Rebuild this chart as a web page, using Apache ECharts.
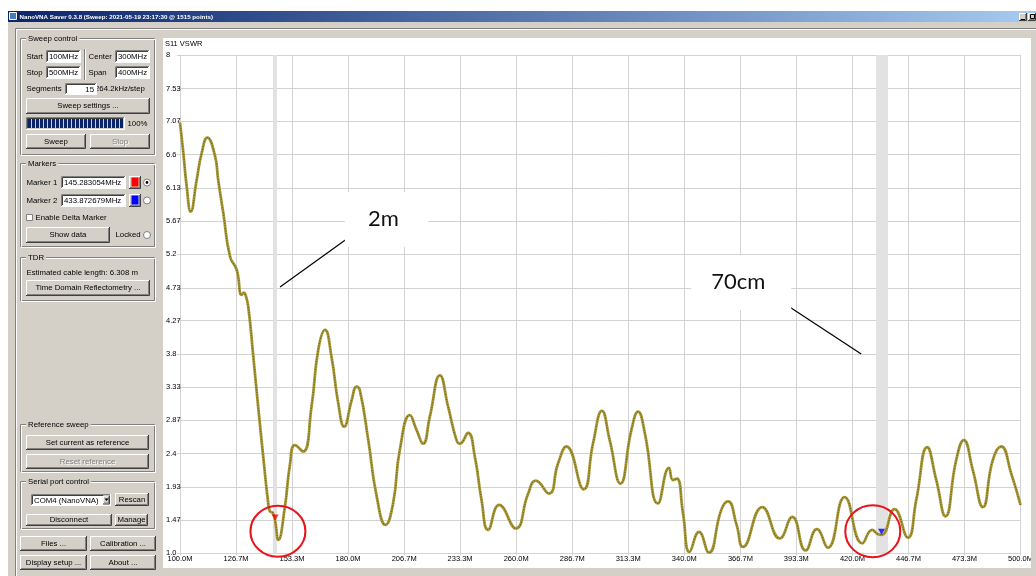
<!DOCTYPE html>
<html><head><meta charset="utf-8">
<script src="https://cdn.jsdelivr.net/npm/echarts@6/dist/echarts.min.js"></script>
<style>html,body{margin:0;padding:0;background:#fff;overflow:hidden}#c{width:1036px;height:576px}</style>
</head><body><div id="c"></div>
<script>
// ---------------- data ----------------
const freqMHz = [100.0,101.6,103.2,105.1,107.9,110.3,113.0,116.6,118.2,120.6,123.8,127.0,129.3,130.4,131.2,132.5,134.9,137.2,139.6,142.0,142.8,144.1,145.2,146.8,149.9,152.3,154.7,158.6,162.6,165.8,169.0,172.1,175.3,178.1,181.7,184.0,185.6,189.6,193.6,197.8,201.4,204.6,209.4,212.6,215.7,218.9,223.7,227.6,231.6,233.2,237.1,240.3,243.5,246.6,251.9,259.8,265.7,269.3,275.6,279.9,283.9,292.1,296.6,300.8,304.5,309.6,314.8,318.0,321.2,327.5,332.7,334.6,336.5,339.4,342.5,347.0,351.7,357.6,360.8,364.9,367.9,377.1,385.4,391.4,397.7,403.1,408.3,416.3,424.7,429.4,432.1,434.0,440.0,446.4,450.4,455.6,459.9,464.3,469.4,473.0,477.3,482.1,486.8,490.8,495.6,500.0];
const vswr = [7.05,6.62,6.15,5.80,6.24,6.62,6.84,6.59,6.24,5.78,5.17,4.98,4.63,4.66,4.63,4.46,3.76,3.06,2.36,1.70,1.59,1.57,1.47,1.19,1.65,2.24,2.52,2.43,3.06,3.86,4.14,3.76,3.11,2.78,3.15,3.34,3.29,2.59,1.80,1.40,1.70,2.45,2.94,2.73,2.54,2.92,3.50,3.06,2.59,2.54,2.69,2.36,1.75,1.33,1.68,1.35,1.84,2.02,1.84,2.26,2.50,1.90,2.55,3.00,2.59,1.98,2.73,2.99,2.69,1.70,2.20,2.03,2.05,1.56,1.02,1.30,1.01,1.61,1.73,1.40,1.09,1.65,1.21,1.51,1.04,1.34,1.08,1.79,1.14,1.33,1.27,1.26,1.62,1.22,1.75,2.49,2.03,1.52,2.31,2.59,2.17,1.65,2.31,2.50,2.12,1.68];
const xTickLabels = ['100.0M','126.7M','153.3M','180.0M','206.7M','233.3M','260.0M','286.7M','313.3M','340.0M','366.7M','393.3M','420.0M','446.7M','473.3M','500.0M'];
const yTickLabels = ['1.0','1.47','1.93','2.4','2.87','3.33','3.8','4.27','4.73','5.2','5.67','6.13','6.6','7.07','7.53','8'];
const markerFreq = [145.283054, 433.872679];
const markerVswr = [1.46, 1.26];
const markerColors = ['#ff0000', '#0000ff'];
const bandWidths = [4, 12];
const noteText = ['2m', '70cm'];
const noteCenter = [[198.2, 5.69], [367.1, 4.80]];
const noteSize = [[83, 55], [100, 55]];
const noteLeader = [[[184.8, 5.53], [147.6, 4.74]], [[379.8, 4.66], [424.2, 3.80]]];
const circleCenter = [[146.6, 1.31], [429.7, 1.31]];
const circleSize = [[55, 51], [55, 52]];

const xTickValues = xTickLabels.map(s => parseFloat(s));
const yTickValues = yTickLabels.map(s => parseFloat(s));
const curve = freqMHz.map((f, i) => [f, vswr[i]]);

// ---------------- window chrome ----------------
const BG = '#d4d0c8';
const FONT = '7.8px "Liberation Sans", Arial, sans-serif';
const chrome = [];
let z2c = 0;
function add(el){ if (el.z === undefined) el.z = -1; el.z2 = z2c++; el.silent = true; chrome.push(el); }
function R(x,y,w,h,fill,stroke,z){ add({type:'rect', z:z, shape:{x:x,y:y,width:w,height:h}, style:{fill:fill||'none', stroke:stroke||null, lineWidth:1}}); }
function PL(points, stroke){ add({type:'polyline', shape:{points:points}, style:{stroke:stroke, fill:'none', lineWidth:1}}); }
function T(x,y,s,o){ o=o||{}; const st={text:s, x:x, y:y, font:o.font||FONT, fill:o.fill||'#000', textAlign:o.align||'left', textVerticalAlign:'middle', align:o.align||'left', verticalAlign:'middle'}; if(o.bg){st.backgroundColor=o.bg; st.padding=o.pad;} add({type:'text', style:st}); }
function raised(x,y,w,h){
  R(x,y,w,h,BG);
  PL([[x+0.5,y+h-1],[x+0.5,y+0.5],[x+w-1,y+0.5]],'#ffffff');
  PL([[x,y+h-0.5],[x+w-0.5,y+h-0.5],[x+w-0.5,y]],'#404040');
  PL([[x+1,y+h-1.5],[x+w-1.5,y+h-1.5],[x+w-1.5,y+1]],'#808080');
}
function button(x,y,w,h,label,dis){
  raised(x,y,w,h);
  const cx=x+w/2, cy=y+h/2;
  if(dis){ T(cx+1,cy+1,label,{fill:'#ffffff',align:'center'}); T(cx,cy,label,{fill:'#808080',align:'center'}); }
  else T(cx,cy,label,{align:'center'});
}
function sunken(x,y,w,h,fill){
  R(x,y,w,h,fill);
  PL([[x+0.5,y+h-1],[x+0.5,y+0.5],[x+w-1,y+0.5]],'#808080');
  PL([[x+1.5,y+h-2],[x+1.5,y+1.5],[x+w-2,y+1.5]],'#404040');
  PL([[x,y+h-0.5],[x+w-0.5,y+h-0.5],[x+w-0.5,y]],'#ffffff');
}
function input(x,y,w,h,txt,right){ sunken(x,y,w,h,'#ffffff'); T(right?x+w-3:x+3, y+h/2+0.5, txt, {align:right?'right':'left'}); }
function group(x,y,w,h,label){
  R(x+0.5,y+0.5,w-1,h-1,'none','#808080');
  R(x+1.5,y+1.5,w-1,h-1,'none','#ffffff');
  T(x+6,y+0.5,label,{bg:BG,pad:[0,2]});
}
function radio(cx,cy,checked){
  add({type:'circle', shape:{cx:cx,cy:cy,r:3.5}, style:{fill:'#ffffff', stroke:'#808080', lineWidth:1}});
  if(checked) add({type:'circle', shape:{cx:cx,cy:cy,r:1.4}, style:{fill:'#000000'}});
}
function colorBtn(x,y,w,h,c){ raised(x,y,w,h); R(x+2.5,y+1.5,w-5,h-4,c); }

// screen + window
R(8,11,1028,565,BG);
add({type:'rect', shape:{x:8,y:11,width:1028,height:11}, style:{fill:{type:'linear',x:0,y:0,x2:1,y2:0,colorStops:[{offset:0,color:'#0a246a'},{offset:1,color:'#a6caf0'}]}}});
R(9.5,12.5,7,7,'#4a7ab8','#ffffff');
T(19.5,16.8,'NanoVNA Saver 0.3.8 (Sweep: 2021-05-19 23:17:30 @ 1515 points)',{font:'bold 6.2px "Liberation Sans", Arial, sans-serif', fill:'#ffffff'});
raised(1019,13,8,8); raised(1028,13,8,8);
PL([[1021,19.5],[1025,19.5]],'#000000');
R(1030.5,14.5,4,4,'none','#000000');
// frame
PL([[15.5,576],[15.5,28.5],[1036,28.5]],'#808080');
PL([[16.5,576],[16.5,29.5],[1036,29.5]],'#ffffff');
// chart panel
R(163,38,868,530,'#ffffff');

// Sweep control
group(20,38,135,117,'Sweep control');
T(26.5,57,'Start'); input(46,50,35,13,'100MHz');
PL([[84.5,49],[84.5,80]],'#808080'); PL([[85.5,49],[85.5,80]],'#ffffff');
T(88.5,57,'Center'); input(115,50,35,13,'300MHz');
T(26.5,73,'Stop'); input(46,66,35,13,'500MHz');
T(88.5,73,'Span'); input(115,66,35,13,'400MHz');
T(26.5,89,'Segments');
T(95,89,'264.2kHz/step');
input(65,83,32,12,'15',true);
button(26,98,124,16,'Sweep settings ...');
sunken(26,117,99,13,BG);
for(let i=0;i<24;i++) R(28+i*4,119,3,9,'#0a246a');
T(127.5,124,'100%');
button(26,134,60,15,'Sweep'); button(90,134,60,15,'Stop',true);

// Markers
group(20,163,135,84,'Markers');
T(26.5,182.5,'Marker 1'); input(61,176,65,13,'145.283054MHz'); colorBtn(129,176,12,13,markerColors[0]); radio(147,182.5,true);
T(26.5,200.5,'Marker 2'); input(61,194,65,13,'433.872679MHz'); colorBtn(129,194,12,13,markerColors[1]); radio(147,200.5,false);
R(26.5,214.5,6,6,'#ffffff','#808080'); T(35.5,217.5,'Enable Delta Marker');
button(26,227,84,16,'Show data'); T(115.5,235,'Locked'); radio(147,235,false);

// TDR
group(20,257,135,44,'TDR');
T(26.5,272.5,'Estimated cable length: 6.308 m');
button(26,280,124,16,'Time Domain Reflectometry ...');

// Reference sweep
group(20,424,135,48,'Reference sweep');
button(26,435,123,15,'Set current as reference');
button(26,454,123,15,'Reset reference',true);

// Serial port control
group(20,481,135,48,'Serial port control');
input(31,494,80,12,'COM4 (NanoVNA)');
raised(103,495.5,7,9);
add({type:'polygon', shape:{points:[[104.5,498.5],[108.5,498.5],[106.5,501]]}, style:{fill:'#000000'}});
button(115,493,34,13,'Rescan');
button(26,514,86,12,'Disconnect'); button(115,514,33,12,'Manage');

// bottom buttons
button(20,536,67,15,'Files ...'); button(90,536,66,15,'Calibration ...');
button(20,555,67,15,'Display setup ...'); button(90,555,66,15,'About ...');

// right border cover (clips last tick label)
R(1031,30,5,546,BG,null,50);

// ---------------- chart ----------------
const GRID = '#d3d3d3';
const chart = echarts.init(document.getElementById('c'), null, {renderer:'canvas'});
chart.setOption({
  animation: false,
  backgroundColor: 'transparent',
  graphic: { elements: chrome },
  title: { text: 'S11 VSWR', left: 165, top: 40, padding: 0,
    textStyle: { fontSize: 7.5, fontWeight: 'normal', color: '#000', fontFamily: '"Liberation Sans", Arial, sans-serif' } },
  grid: { left: 180, top: 55, width: 841, height: 498.3, containLabel: false },
  xAxis: {
    type: 'value', min: 100, max: 500,
    axisLine: { show: true, lineStyle: { color: GRID, width: 1 } },
    axisTick: { show: true, length: 2, customValues: xTickValues, lineStyle: { color: GRID } },
    splitLine: { show: true, lineStyle: { color: GRID, width: 1 } },
    axisLabel: { customValues: xTickValues, margin: 2, fontSize: 7.5, color: '#000', fontFamily: '"Liberation Sans", Arial, sans-serif',
      formatter: v => { const i = xTickValues.findIndex(t => Math.abs(t - v) < 1e-6); return i >= 0 ? xTickLabels[i] : ''; } }
  },
  yAxis: {
    type: 'value', min: 1, max: 8,
    axisLine: { show: true, lineStyle: { color: GRID, width: 1 } },
    axisTick: { show: true, length: 3, customValues: yTickValues, lineStyle: { color: GRID } },
    splitLine: { show: true, lineStyle: { color: GRID, width: 1 } },
    axisLabel: { customValues: yTickValues, align: 'left', margin: 14, fontSize: 7.5, color: '#000', fontFamily: '"Liberation Sans", Arial, sans-serif',
      formatter: v => { const i = yTickValues.findIndex(t => Math.abs(t - v) < 1e-6); return i >= 0 ? yTickLabels[i] : ''; } }
  },
  series: [
    { type: 'line', name: 'bands', data: [], z: 1, silent: true,
      markLine: { z: 1, silent: true, symbol: 'none', label: { show: false },
        data: markerFreq.map((f, i) => ({ xAxis: f, lineStyle: { color: '#e2e2e2', width: bandWidths[i], type: 'solid' } })) } },
    { type: 'line', name: 'S11 VSWR', data: curve, smooth: 0.5, symbol: 'none', z: 3, silent: true,
      lineStyle: { color: '#a8993a', width: 2.8 } },
    { type: 'line', name: 'dots', data: curve, smooth: 0.5, symbol: 'none', z: 4, silent: true,
      lineStyle: { color: '#6f6010', width: 1.2, type: [1, 1.6] } },
    { type: 'scatter', name: 'markers', z: 5, silent: true, symbol: 'triangle', symbolRotate: 180, symbolSize: [7, 6], symbolOffset: [0, -3],
      data: markerFreq.map((f, i) => ({ value: [f, markerVswr[i]], itemStyle: { color: markerColors[i] } })) },
    { type: 'line', name: 'notes', data: [], z: 6, silent: true,
      markPoint: { z: 6, silent: true,
        data: noteText.map((t, i) => ({ coord: noteCenter[i], symbol: 'rect', symbolSize: noteSize[i],
            itemStyle: { color: '#ffffff' },
            label: { show: true, position: 'inside', formatter: t, offset: [-3, -1], fontSize: 22, color: '#111', fontFamily: 'Lato, "Open Sans", sans-serif' } }))
          .concat(circleCenter.map((c, i) => ({ coord: c, symbol: 'circle', symbolSize: circleSize[i],
            itemStyle: { color: 'rgba(0,0,0,0)', borderColor: '#e8141c', borderWidth: 2 }, label: { show: false } }))) },
      markLine: { z: 6, silent: true, symbol: 'none', label: { show: false },
        lineStyle: { color: '#000', width: 1.2, type: 'solid' },
        data: noteLeader.map(l => [{ coord: l[0] }, { coord: l[1] }]) } }
  ]
});
</script>
</body></html>
